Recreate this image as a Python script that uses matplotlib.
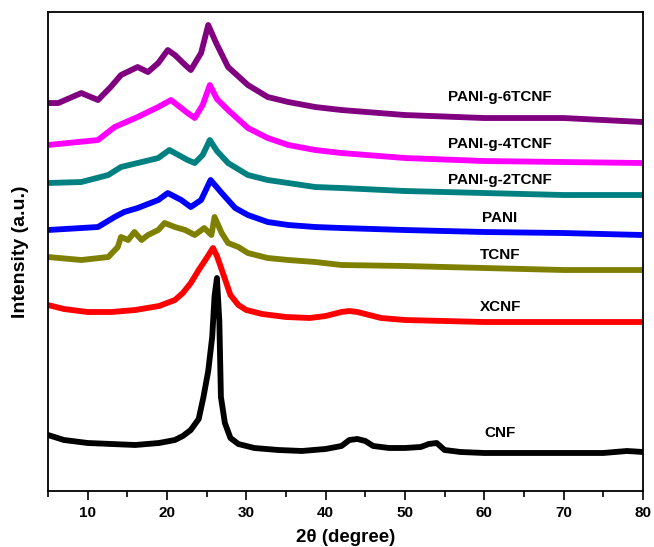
import matplotlib
matplotlib.use("Agg")
import matplotlib.pyplot as plt
from matplotlib.ticker import MultipleLocator

plt.rcParams['font.family'] = ['Liberation Sans', 'DejaVu Sans']

# ---------------- data ----------------
cnf_x = [5, 7, 10, 13, 16, 19, 21, 22, 23, 24, 24.6, 25.2, 25.7, 26.0, 26.3, 26.6, 26.8, 27.3,
         28, 29, 31, 34, 37, 40, 42, 43, 44, 45, 46, 48, 50, 52, 53, 54, 55, 57, 60, 65, 70, 75, 78, 80]
cnf_y = [56, 51, 48, 47, 46, 48, 51, 55, 61, 72, 94, 120, 154, 195, 213, 170, 94, 68,
         53, 47, 43, 41, 40, 42, 45, 51, 52, 50, 45, 43, 43, 44, 47, 48, 41, 39, 38, 38, 38, 38, 40, 39]

xcnf_x = [5, 7, 10, 13, 16, 19, 21, 22, 23, 24, 25, 25.8, 26.3, 27, 28, 29, 30, 32, 35, 38, 40,
          42, 43, 44, 45, 47, 50, 55, 60, 70, 80]
xcnf_y = [186, 182, 179, 179, 181, 185, 191, 198, 208, 221, 233, 243, 235, 219, 196, 186, 181, 177, 174, 173, 175,
          179, 180, 179, 177, 173, 171, 170, 169, 169, 169]

tcnf_x = [5, 9.2, 12.6, 13.8, 14.2, 15.1, 15.9, 16.8, 17.6, 18.9, 19.7, 21, 22.3, 23.5, 24.7, 25.6, 26,
          26.9, 27.7, 29, 30.2, 32.7, 35.3, 38.7, 42, 50, 60, 70, 80]
tcnf_y = [234, 231, 234, 244, 254, 251, 259, 251, 256, 261, 268, 264, 261, 256, 263, 256, 274,
          258, 248, 244, 238, 233, 231, 229, 226, 225, 223, 221, 221]

pani_x = [5, 11.3, 13.4, 14.6, 16.3, 18.9, 20.1, 21.8, 23, 24.3, 25.5, 26.9, 28.6, 30.2, 32.7, 35.3,
          38.7, 42, 50, 60, 70, 80]
pani_y = [261, 264, 274, 279, 283, 291, 298, 291, 284, 291, 311, 298, 283, 276, 269, 266,
          264, 263, 261, 259, 258, 256]

p2_x = [5, 9.2, 12.6, 14.2, 16.3, 18.9, 20.3, 22.6, 23.5, 24.5, 25.4, 26.3, 27.7, 30.2, 32.7, 35.3,
        38.7, 42, 50, 60, 70, 80]
p2_y = [308, 309, 316, 324, 328, 333, 341, 331, 328, 336, 351, 340, 328, 316, 311, 308,
        304, 303, 300, 298, 296, 296]

p4_x = [5, 11.3, 13.4, 16.3, 18.9, 20.5, 22.6, 23.5, 24.5, 25.4, 26.3, 27.7, 30.2, 32.7, 35.3,
        38.7, 42, 50, 60, 70, 80]
p4_y = [346, 351, 364, 374, 384, 391, 378, 373, 386, 406, 392, 381, 363, 353, 346,
        341, 338, 333, 330, 329, 328]

p6_x = [5, 6.3, 9.2, 11.3, 12.9, 14.2, 16.3, 17.6, 18.9, 20.1, 21, 22.3, 23, 24.3, 25.2, 26.2,
        27.7, 30.2, 32.7, 35.3, 38.7, 42, 50, 60, 70, 80]
p6_y = [388, 388, 398, 391, 404, 416, 424, 419, 428, 441, 436, 426, 421, 438, 466, 448,
        424, 406, 394, 389, 384, 381, 376, 373, 373, 369]

labels = ["PANI-g-6TCNF", "PANI-g-4TCNF", "PANI-g-2TCNF", "PANI", "TCNF", "XCNF", "CNF"]
label_y = [394, 347, 311, 273, 236, 184, 58]
label_x = 62

# ---------------- plot ----------------
fig = plt.figure(figsize=(6.54, 5.47), dpi=100)
ax = fig.add_axes([0.0734, 0.1024, 0.9096, 0.8756])

series = [
    (p6_x, p6_y, '#800080'),
    (p4_x, p4_y, '#ff00ff'),
    (p2_x, p2_y, '#008080'),
    (pani_x, pani_y, '#0000ff'),
    (tcnf_x, tcnf_y, '#808000'),
    (xcnf_x, xcnf_y, '#ff0000'),
    (cnf_x, cnf_y, '#000000'),
]
for (x, y, c) in series:
    ax.plot(x, y, color=c, lw=4.2, solid_joinstyle='round')

for lab, ly in zip(labels, label_y):
    ax.text(label_x, ly, lab, ha='center', va='center', fontsize=11, fontweight='bold')

ax.set_xlim(5, 80)
ax.set_ylim(0, 479)
ax.xaxis.set_major_locator(MultipleLocator(10))
ax.xaxis.set_minor_locator(MultipleLocator(5))
ax.set_yticks([])
ax.tick_params(axis='x', which='major', direction='out', length=6.5, width=1.2, pad=4)
ax.tick_params(axis='x', which='minor', direction='out', length=4, width=1.2)
ax.tick_params(axis='x', labelsize=11)
for lbl in ax.get_xticklabels():
    lbl.set_fontweight('bold')
for s in ax.spines.values():
    s.set_linewidth(1.3)

ax.set_xlabel('2θ (degree)', fontsize=13.5, fontweight='bold', labelpad=7)
ax.set_ylabel('Intensity (a.u.)', fontsize=14, fontweight='bold', labelpad=14)

fig.savefig('out.png', dpi=100)
